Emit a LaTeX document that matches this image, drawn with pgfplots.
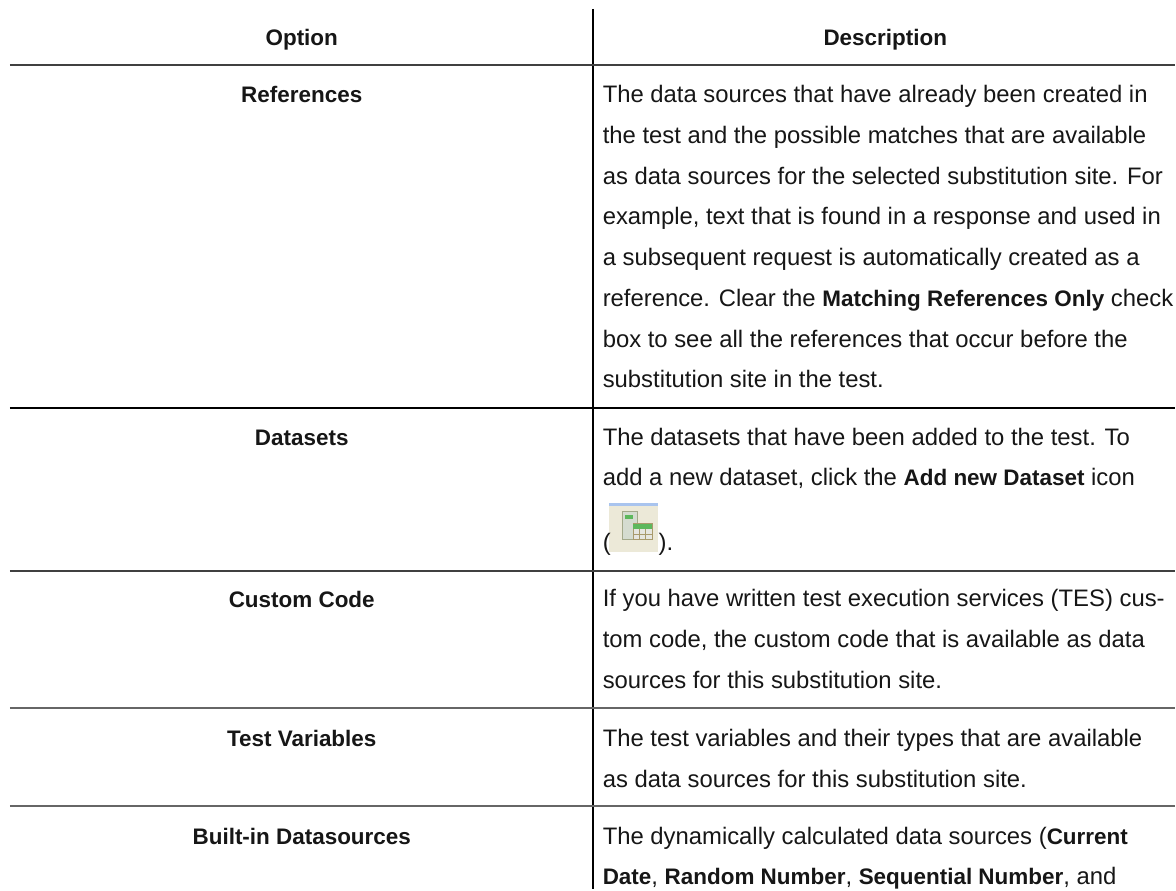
\documentclass[border=0pt]{standalone}
\usepackage{pgfplots}
\pgfplotsset{compat=1.18}
\usepackage{fontspec}
\setmainfont{Liberation Sans}
\definecolor{ink}{HTML}{161616}
\definecolor{iconbg}{HTML}{ECE9D8}
\definecolor{iconblue}{HTML}{A9C4EE}
\definecolor{iconcard}{HTML}{D5DCD0}
\definecolor{iconedge}{HTML}{A3A98A}
\definecolor{icongreen}{HTML}{5DB85D}
\definecolor{iconbrown}{HTML}{A89A6C}
\definecolor{iconcell}{HTML}{E6E6E0}
\newcommand{\B}[1]{{\fontsize{16.85}{20}\selectfont\bfseries #1}}
\newcommand{\R}[3]{\node[anchor=base west,inner sep=0pt,text=ink,font=\fontsize{17.9}{21}\selectfont] at (axis cs:#1,#2) {#3};}
\newcommand{\C}[3]{\node[anchor=base,inner sep=0pt,text=ink] at (axis cs:#1,#2) {\B{#3}};}
\begin{document}
\begin{tikzpicture}
\begin{axis}[width=882pt,height=667.5pt,scale only axis,xmin=0,xmax=1176,ymin=0,ymax=890,y dir=reverse,hide axis,clip=false]
\path (axis cs:0,0) -- (axis cs:1176,890);
% rules
\addplot[black,line width=1.5pt] coordinates {(593.7,9) (593.7,890)};
\addplot[color=black!75,line width=1.5pt] coordinates {(10,65) (1176,65)};
\addplot[black,line width=1.5pt] coordinates {(10,408) (1176,408)};
\addplot[color=black!75,line width=1.5pt] coordinates {(10,571) (1176,571)};
\addplot[color=black!60,line width=1.5pt] coordinates {(10,709) (1176,709)};
\addplot[color=black!60,line width=1.5pt] coordinates {(10,807) (1176,807)};
% icon
\addplot[fill=iconbg,draw=none] coordinates {(610,503) (659,503) (659,552) (610,552)} --cycle;
\addplot[fill=iconblue,draw=none] coordinates {(610,503) (659,503) (659,506) (610,506)} --cycle;
\addplot[fill=iconcard,draw=iconedge,line width=1pt] coordinates {(623,512) (638,512) (638,540) (623,540)} --cycle;
\addplot[fill=icongreen,draw=none] coordinates {(626,515) (634,515) (634,519) (626,519)} --cycle;
\addplot[fill=iconcell,draw=iconbrown,line width=1pt] coordinates {(634,524) (653,524) (653,540) (634,540)} --cycle;
\addplot[fill=icongreen,draw=none] coordinates {(634,524) (653,524) (653,529) (634,529)} --cycle;
\addplot[iconbrown,line width=.5pt] coordinates {(640,529) (640,540)};
\addplot[iconbrown,line width=.5pt] coordinates {(646,529) (646,540)};
\addplot[iconbrown,line width=.5pt] coordinates {(634,534.5) (653,534.5)};
% left column
\C{302}{45.7}{Option}
\C{886}{45.7}{Description}
\C{302}{102.7}{References}
\C{302}{445.7}{Datasets}
\C{302}{608}{Custom Code}
\C{302}{746.7}{Test Variables}
\C{302}{845}{Built-in Datasources}
% right column
\R{603}{102.7}{The data sources that have already been created in}
\R{603}{143.5}{the test and the possible matches that are available}
\R{603}{184.3}{as data sources for the selected substitution site. For}
\R{603}{225}{example, text that is found in a response and used in}
\R{603}{265.8}{a subsequent request is automatically created as a}
\R{603}{306.6}{reference. Clear the \B{Matching References Only} check}
\R{603}{347.4}{box to see all the references that occur before the}
\R{603}{388}{substitution site in the test.}
\R{603}{445.7}{The datasets that have been added to the test. To}
\R{603}{486}{add a new dataset, click the \B{Add new Dataset} icon}
\R{603}{551}{(}
\R{659}{551}{).}
\R{603}{607.5}{If you have written test execution services (TES) cus-}
\R{603}{648.5}{tom code, the custom code that is available as data}
\R{603}{689.3}{sources for this substitution site.}
\R{603}{746.7}{The test variables and their types that are available}
\R{603}{787.7}{as data sources for this substitution site.}
\R{603}{845}{The dynamically calculated data sources (\B{Current}}
\R{603}{885.7}{\B{Date}, \B{Random Number}, \B{Sequential Number}, and}
\end{axis}
\end{tikzpicture}
\end{document}
